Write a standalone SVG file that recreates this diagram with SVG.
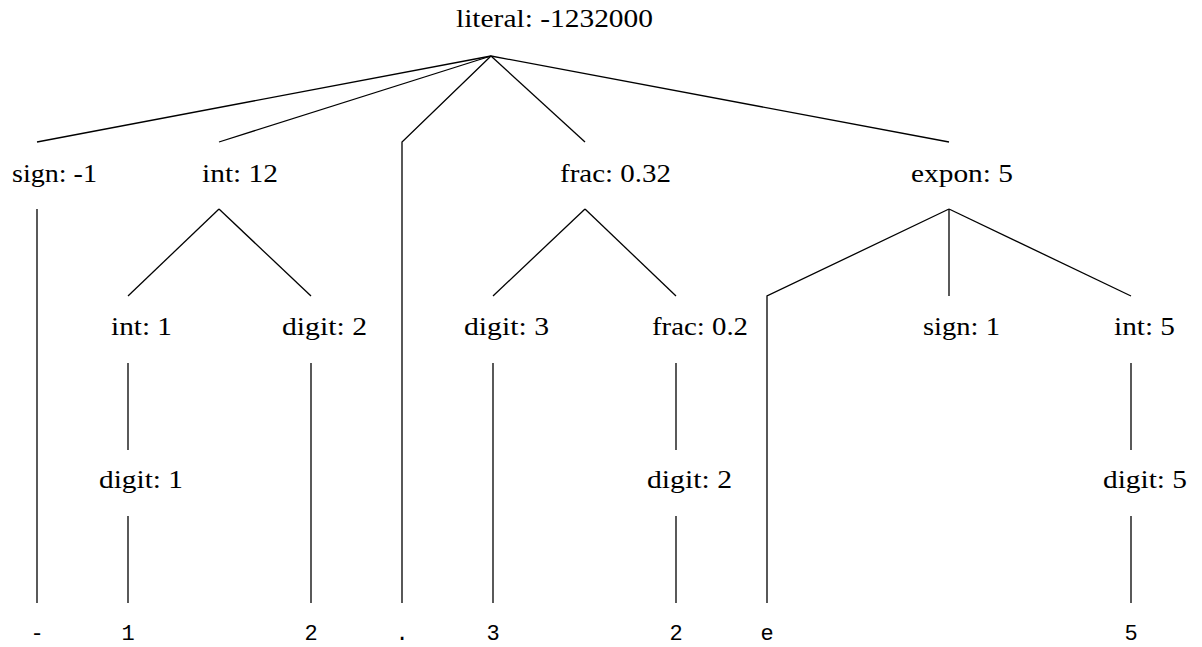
<svg xmlns="http://www.w3.org/2000/svg" width="1202" height="647" viewBox="0 0 1202 647">
<style>
.lbl{font-family:"Liberation Serif","Times New Roman",serif;font-size:26px;fill:#000}
.leaf{font-family:"Liberation Mono","Courier New",monospace;font-size:22px;fill:#000;text-anchor:middle}
.edge{fill:none;stroke:#000;stroke-width:1.3}
</style>
<rect width="1202" height="647" fill="#fff"/>
<g id="connectors">
<line class="edge" x1="491" y1="56" x2="37" y2="142"/>
<line class="edge" x1="491" y1="56" x2="219" y2="142"/>
<polyline class="edge" points="491,56 402,142 402,603"/>
<line class="edge" x1="491" y1="56" x2="585" y2="142"/>
<line class="edge" x1="491" y1="56" x2="949" y2="142"/>
<line class="edge" x1="37" y1="209" x2="37" y2="603"/>
<line class="edge" x1="219" y1="209" x2="128" y2="296"/>
<line class="edge" x1="219" y1="209" x2="311" y2="296"/>
<line class="edge" x1="585" y1="209" x2="493" y2="296"/>
<line class="edge" x1="585" y1="209" x2="676" y2="296"/>
<polyline class="edge" points="949,209 767,296 767,603"/>
<line class="edge" x1="949" y1="209" x2="949" y2="296"/>
<line class="edge" x1="949" y1="209" x2="1131" y2="296"/>
<line class="edge" x1="128" y1="363" x2="128" y2="450"/>
<line class="edge" x1="128" y1="516" x2="128" y2="603"/>
<line class="edge" x1="311" y1="363" x2="311" y2="603"/>
<line class="edge" x1="493" y1="363" x2="493" y2="603"/>
<line class="edge" x1="676" y1="363" x2="676" y2="450"/>
<line class="edge" x1="676" y1="516" x2="676" y2="603"/>
<line class="edge" x1="1131" y1="363" x2="1131" y2="450"/>
<line class="edge" x1="1131" y1="516" x2="1131" y2="603"/>
</g>
<g id="n-literal"><text class="lbl" x="456" y="27" textLength="197" lengthAdjust="spacingAndGlyphs">literal: -1232000</text></g>
<g id="n-sign1"><text class="lbl" x="12" y="182" textLength="85" lengthAdjust="spacingAndGlyphs">sign: -1</text></g>
<g id="n-int12"><text class="lbl" x="202" y="182" textLength="76" lengthAdjust="spacingAndGlyphs">int: 12</text></g>
<g id="n-frac032"><text class="lbl" x="560" y="182" textLength="111" lengthAdjust="spacingAndGlyphs">frac: 0.32</text></g>
<g id="n-expon5"><text class="lbl" x="911" y="182" textLength="102" lengthAdjust="spacingAndGlyphs">expon: 5</text></g>
<g id="n-int1"><text class="lbl" x="111" y="335" textLength="61" lengthAdjust="spacingAndGlyphs">int: 1</text></g>
<g id="n-digit2a"><text class="lbl" x="282" y="335" textLength="85" lengthAdjust="spacingAndGlyphs">digit: 2</text></g>
<g id="n-digit3"><text class="lbl" x="464" y="335" textLength="85" lengthAdjust="spacingAndGlyphs">digit: 3</text></g>
<g id="n-frac02"><text class="lbl" x="652" y="335" textLength="96" lengthAdjust="spacingAndGlyphs">frac: 0.2</text></g>
<g id="n-sign1b"><text class="lbl" x="923" y="335" textLength="77" lengthAdjust="spacingAndGlyphs">sign: 1</text></g>
<g id="n-int5"><text class="lbl" x="1114" y="335" textLength="61" lengthAdjust="spacingAndGlyphs">int: 5</text></g>
<g id="n-digit1"><text class="lbl" x="99" y="488" textLength="84" lengthAdjust="spacingAndGlyphs">digit: 1</text></g>
<g id="n-digit2b"><text class="lbl" x="647" y="488" textLength="85" lengthAdjust="spacingAndGlyphs">digit: 2</text></g>
<g id="n-digit5"><text class="lbl" x="1103" y="488" textLength="84" lengthAdjust="spacingAndGlyphs">digit: 5</text></g>
<g id="leaves">
<text class="leaf" x="37" y="640">-</text>
<text class="leaf" x="128" y="640">1</text>
<text class="leaf" x="311" y="640">2</text>
<text class="leaf" x="402" y="640">.</text>
<text class="leaf" x="493" y="640">3</text>
<text class="leaf" x="676" y="640">2</text>
<text class="leaf" x="767" y="640">e</text>
<text class="leaf" x="1131" y="640">5</text>
</g>
</svg>
